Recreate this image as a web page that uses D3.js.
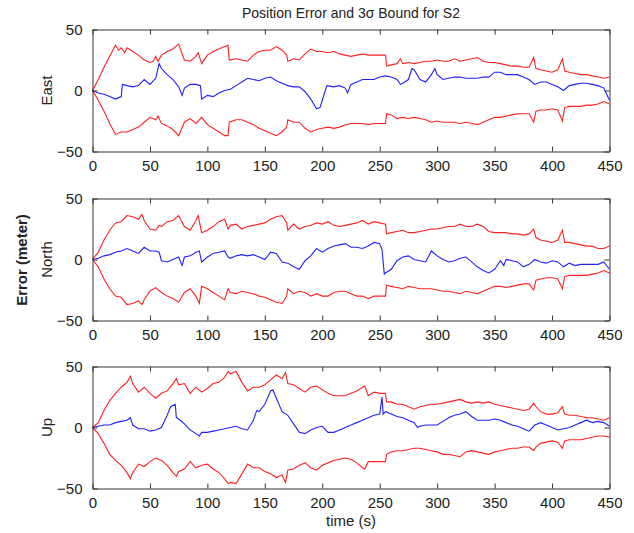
<!DOCTYPE html>
<html>
<head>
<meta charset="utf-8">
<script src="https://cdn.jsdelivr.net/npm/d3@7"></script>
<style>
  body { margin: 0; background: #fff; }
  text { font-family: Arial, "Liberation Sans", sans-serif; fill: #222; }
</style>
</head>
<body>
<div id="viz"></div>
<script>
// dados, [time, meter]

var xTicks = [0, 50, 100, 150, 200, 250, 300, 350, 400, 450];
var yTicks = [-50, 0, 50];
var panelNames = ['East', 'North', 'Up'];

// East
var eastUpper = [[0,0],[5,9],[10,19],[15,28],[20,37],[23,33],[25,35],[28,31],[30,35],[35,32],[40,29],[45,25],[50,23],[53,24],[55,28],[57,24],[60,29],[65,32],[70,34],[75,38],[78,30],[80,25],[85,24],[90,28],[92,31],[95,22],[100,29],[105,32],[110,34],[115,36],[118,37],[119,25],[125,26],[130,25],[135,24],[140,29],[145,32],[150,33],[155,33],[160,36],[165,33],[169,29],[170,24],[175,26],[180,25],[185,30],[190,34],[195,32],[200,32],[205,31],[210,32],[215,30],[220,29],[225,28],[230,29],[235,30],[240,29],[245,29],[250,29],[255,29],[256,20],[260,21],[265,22],[268,26],[270,22],[275,23],[280,22],[285,23],[290,24],[295,24],[300,25],[305,24],[310,24],[315,26],[320,24],[325,25],[330,26],[335,27],[340,24],[345,23],[350,23],[355,22],[360,21],[365,20],[370,20],[375,19],[380,19],[384,27],[386,18],[390,17],[395,16],[400,15],[405,17],[409,26],[411,16],[415,15],[420,14],[425,13],[430,13],[435,12],[440,11],[445,10],[450,11]];
var eastLower = [[0,0],[5,-8],[10,-17],[15,-27],[20,-36],[25,-34],[30,-34],[35,-32],[40,-30],[45,-26],[50,-22],[55,-24],[57,-21],[60,-27],[65,-29],[70,-32],[75,-37],[80,-26],[85,-23],[90,-27],[95,-22],[100,-28],[105,-31],[110,-34],[115,-37],[118,-37],[119,-26],[125,-24],[130,-24],[135,-26],[140,-28],[145,-31],[150,-33],[155,-35],[160,-37],[165,-34],[169,-30],[170,-24],[175,-26],[180,-26],[185,-31],[190,-34],[195,-32],[200,-31],[205,-30],[210,-31],[215,-30],[220,-28],[225,-27],[230,-27],[235,-27],[240,-28],[245,-27],[250,-27],[255,-27],[256,-19],[260,-20],[265,-23],[270,-22],[275,-23],[280,-22],[285,-23],[290,-24],[295,-26],[300,-25],[305,-26],[310,-26],[315,-26],[320,-27],[325,-26],[330,-27],[335,-28],[340,-26],[345,-24],[350,-22],[355,-22],[360,-21],[365,-20],[370,-19],[375,-19],[380,-19],[384,-26],[386,-17],[390,-16],[395,-16],[400,-15],[405,-16],[409,-25],[411,-14],[415,-13],[420,-13],[425,-13],[430,-12],[435,-12],[440,-11],[445,-9],[450,-11]];
var eastError = [[0,0],[5,-2],[10,-3],[15,-5],[20,-7],[25,-5],[26,5],[30,4],[35,3],[40,4],[45,9],[50,5],[55,10],[58,22],[60,18],[65,13],[70,9],[75,3],[78,-4],[80,2],[85,5],[90,5],[94,4],[95,-7],[100,-4],[105,-5],[110,-2],[115,0],[120,1],[125,4],[130,7],[135,10],[140,9],[145,8],[150,10],[155,11],[160,8],[165,6],[170,4],[175,3],[180,3],[185,-1],[190,-7],[195,-15],[198,-14],[200,-8],[204,4],[210,3],[215,4],[220,2],[222,-2],[225,5],[230,7],[235,9],[240,9],[245,9],[250,11],[255,12],[260,11],[265,9],[268,5],[270,6],[275,9],[278,18],[280,17],[285,9],[290,7],[295,13],[298,18],[300,13],[305,9],[310,10],[315,11],[320,11],[325,10],[330,10],[335,10],[340,11],[345,11],[350,15],[355,15],[360,13],[365,13],[370,13],[375,11],[380,9],[385,5],[390,7],[395,7],[400,5],[405,3],[410,0],[415,4],[420,5],[425,6],[430,6],[435,5],[440,4],[445,2],[450,-8]];

// North
var northUpper = [[0,0],[5,6],[10,16],[15,24],[20,30],[25,31],[30,36],[35,35],[40,33],[43,37],[45,32],[50,25],[55,24],[58,28],[60,27],[65,31],[70,32],[75,36],[80,27],[85,24],[90,32],[92,36],[95,22],[100,24],[105,27],[110,31],[115,33],[118,25],[120,28],[125,29],[130,25],[135,27],[140,28],[145,29],[150,30],[155,33],[160,35],[165,36],[169,30],[170,24],[175,29],[180,25],[185,27],[190,28],[195,30],[200,29],[205,31],[210,28],[215,27],[220,28],[225,29],[230,30],[235,32],[240,29],[245,31],[250,30],[255,29],[256,21],[260,22],[265,23],[270,24],[275,22],[280,22],[285,23],[290,24],[295,25],[300,25],[305,26],[310,27],[315,27],[320,29],[325,27],[330,27],[335,29],[340,27],[345,23],[350,22],[355,22],[360,22],[365,21],[370,21],[375,20],[380,21],[384,25],[386,18],[390,16],[395,15],[400,14],[405,16],[409,24],[411,14],[415,14],[420,13],[425,12],[430,11],[435,11],[440,9],[445,9],[450,11]];
var northLower = [[0,0],[5,-6],[10,-16],[15,-24],[20,-30],[25,-31],[30,-37],[35,-36],[40,-34],[43,-37],[45,-33],[50,-26],[55,-23],[60,-27],[65,-30],[70,-32],[75,-35],[80,-27],[85,-24],[90,-30],[93,-36],[95,-22],[100,-24],[105,-27],[110,-30],[115,-33],[118,-24],[120,-27],[125,-28],[130,-26],[135,-27],[140,-28],[145,-30],[150,-31],[155,-33],[160,-35],[165,-36],[169,-30],[170,-24],[175,-28],[180,-26],[185,-27],[190,-30],[195,-28],[200,-30],[205,-30],[210,-27],[215,-26],[220,-26],[225,-28],[230,-30],[235,-30],[240,-32],[245,-30],[250,-30],[255,-30],[256,-21],[260,-22],[265,-23],[270,-24],[275,-22],[280,-23],[285,-24],[290,-24],[295,-24],[300,-25],[305,-26],[310,-26],[315,-27],[320,-28],[325,-26],[330,-27],[335,-28],[340,-26],[345,-24],[350,-22],[355,-22],[360,-23],[365,-22],[370,-21],[375,-20],[380,-20],[384,-25],[386,-17],[390,-16],[395,-15],[400,-15],[405,-16],[409,-24],[411,-14],[415,-13],[420,-13],[425,-13],[430,-13],[435,-12],[440,-11],[445,-9],[450,-11]];
var northError = [[0,0],[5,1],[10,3],[15,4],[20,6],[25,7],[30,9],[35,7],[40,5],[45,10],[50,7],[55,7],[58,6],[60,-1],[65,-2],[70,0],[75,2],[78,-5],[80,2],[85,3],[90,6],[93,7],[95,-2],[100,2],[105,5],[110,6],[115,7],[118,2],[120,1],[125,3],[130,4],[135,3],[140,4],[145,2],[150,0],[155,6],[160,5],[165,-2],[170,-3],[175,-6],[180,-8],[185,-1],[190,3],[195,9],[200,6],[205,9],[210,11],[215,12],[220,13],[225,10],[230,10],[235,9],[240,11],[245,14],[250,13],[252,8],[254,-12],[255,-11],[260,-8],[265,-1],[270,2],[275,3],[280,0],[285,-1],[290,-2],[295,7],[300,3],[305,0],[310,-2],[315,-1],[320,1],[325,2],[330,-2],[335,-6],[340,-9],[345,-11],[350,-8],[355,-1],[358,-5],[360,0],[365,-1],[370,-2],[375,-6],[380,-4],[385,0],[390,-2],[395,-3],[400,-1],[405,-2],[410,-6],[415,-3],[420,-5],[425,-4],[430,-4],[435,-4],[440,-4],[445,-2],[450,-8]];

// Up
var upUpper = [[0,0],[5,4],[10,14],[15,22],[20,28],[25,33],[30,37],[33,42],[35,36],[40,29],[45,33],[50,28],[55,24],[60,28],[65,30],[70,36],[73,40],[75,35],[80,36],[85,28],[90,33],[95,29],[100,32],[105,36],[110,37],[115,41],[118,46],[120,44],[125,46],[130,37],[135,30],[140,33],[145,33],[150,35],[155,39],[160,43],[165,40],[168,45],[170,36],[175,35],[180,32],[185,29],[190,33],[195,34],[200,31],[205,28],[210,26],[215,26],[220,26],[225,28],[230,30],[235,33],[237,34],[240,26],[245,29],[250,28],[255,28],[256,21],[260,21],[265,19],[270,19],[275,17],[280,15],[285,17],[290,18],[295,19],[300,19],[305,20],[310,21],[315,22],[320,23],[325,21],[330,20],[335,21],[340,20],[345,21],[350,19],[355,18],[360,17],[365,16],[370,15],[375,14],[380,15],[384,20],[386,17],[390,13],[395,11],[400,11],[405,12],[409,17],[411,11],[415,10],[420,10],[425,9],[430,8],[435,8],[440,7],[445,6],[450,8]];
var upLower = [[0,0],[5,-5],[10,-13],[15,-22],[20,-27],[25,-31],[30,-37],[33,-42],[35,-37],[40,-30],[45,-32],[50,-28],[55,-25],[60,-27],[65,-31],[70,-37],[73,-40],[75,-36],[80,-34],[85,-28],[90,-33],[95,-31],[100,-30],[105,-34],[110,-37],[115,-42],[118,-46],[120,-45],[125,-46],[130,-38],[135,-30],[140,-33],[145,-33],[150,-36],[155,-38],[160,-41],[165,-39],[168,-45],[170,-35],[175,-34],[180,-31],[185,-29],[190,-33],[195,-35],[200,-31],[205,-29],[210,-27],[215,-26],[220,-25],[225,-26],[230,-29],[235,-33],[237,-34],[240,-28],[245,-28],[250,-28],[255,-28],[256,-22],[260,-20],[265,-19],[270,-19],[275,-18],[280,-17],[285,-17],[290,-18],[295,-19],[300,-20],[305,-22],[310,-22],[315,-23],[320,-24],[325,-20],[330,-19],[335,-20],[340,-21],[345,-22],[350,-20],[355,-19],[360,-18],[365,-17],[370,-17],[375,-16],[380,-16],[384,-19],[386,-16],[390,-13],[395,-12],[400,-11],[405,-12],[409,-17],[411,-11],[415,-10],[420,-10],[425,-10],[430,-9],[435,-8],[440,-7],[445,-7],[450,-8]];
var upError = [[0,0],[5,1],[10,2],[15,2],[20,4],[25,5],[30,6],[33,8],[35,2],[40,-1],[45,-1],[50,-3],[55,-2],[60,0],[65,10],[68,17],[70,18],[72,19],[73,8],[75,7],[80,3],[85,-2],[90,-5],[93,-7],[95,-4],[100,-4],[105,-3],[110,-2],[115,-1],[120,0],[125,1],[130,-1],[135,-2],[140,6],[143,14],[145,13],[150,19],[155,30],[157,31],[160,24],[165,13],[170,10],[175,3],[180,-4],[185,-5],[190,-2],[195,0],[200,1],[205,-4],[210,-4],[215,-2],[220,0],[225,2],[230,4],[235,6],[240,8],[245,10],[250,11],[252,25],[253,11],[255,13],[260,11],[265,9],[270,8],[275,6],[280,4],[283,0],[285,1],[290,2],[295,2],[300,2],[305,5],[310,8],[315,10],[320,11],[325,13],[330,9],[335,6],[340,6],[345,6],[350,7],[355,6],[360,4],[365,2],[370,1],[375,-1],[380,-3],[385,2],[390,4],[395,2],[400,0],[405,-2],[410,-1],[415,0],[420,2],[425,4],[430,6],[435,4],[440,5],[445,4],[450,1]];

var panels = [
    {name: panelNames[0], upper: eastUpper, lower: eastLower, err: eastError},
    {name: panelNames[1], upper: northUpper, lower: northLower, err: northError},
    {name: panelNames[2], upper: upUpper, lower: upLower, err: upError}
];

// tamanho - layout
var width = 634, height = 533;
var left = 92.5, right = 609.5;
var tops = [29.5, 198.5, 366.5];
var ph = 122;

var svg = d3.select('#viz')
.append('svg')
.attr('width', width)
.attr('height', height)
;

var x = d3.scaleLinear().domain([0, 450]).range([left, right]);

svg.append('text')
.text('Position Error and 3\u03c3 Bound for S2')
.attr('x', (left + right) / 2)
.attr('y', 18)
.attr('text-anchor', 'middle')
.style('font-size', '14px')
;

panels.forEach(function(p, i) {
    var top = tops[i];
    var y = d3.scaleLinear().domain([-50, 50]).range([top + ph, top]);

    var g = svg.append('g').attr('class', 'panel');

    var line = d3.line()
    .x(function(d) { return x(d[0]); })
    .y(function(d) { return y(d[1]); })
    ;

    // linhas - lines
    g.append('path').datum(p.upper).attr('d', line)
    .attr('fill', 'none').attr('stroke', '#ff2020').attr('stroke-width', 1.1);
    g.append('path').datum(p.lower).attr('d', line)
    .attr('fill', 'none').attr('stroke', '#ff2020').attr('stroke-width', 1.1);
    g.append('path').datum(p.err).attr('d', line)
    .attr('fill', 'none').attr('stroke', '#2020ff').attr('stroke-width', 1.1);

    // eixos - axes (ticks para dentro / inward ticks)
    g.append('g')
    .attr('transform', 'translate(0,' + (top + ph) + ')')
    .call(d3.axisBottom(x).tickValues(xTicks).tickSizeInner(-5).tickSizeOuter(0).tickPadding(9))
    .call(styleAxis)
    ;
    g.append('g')
    .attr('transform', 'translate(0,' + top + ')')
    .call(d3.axisTop(x).tickValues(xTicks).tickSizeInner(-5).tickSizeOuter(0).tickFormat(''))
    .call(styleAxis)
    ;
    g.append('g')
    .attr('transform', 'translate(' + left + ',0)')
    .call(d3.axisLeft(y).tickValues(yTicks).tickSizeInner(-5).tickSizeOuter(0).tickPadding(10))
    .call(styleAxis)
    ;
    g.append('g')
    .attr('transform', 'translate(' + right + ',0)')
    .call(d3.axisRight(y).tickValues(yTicks).tickSizeInner(-5).tickSizeOuter(0).tickFormat(''))
    .call(styleAxis)
    ;

    g.append('text')
    .text(p.name)
    .attr('transform', 'translate(52,' + (top + ph / 2) + ') rotate(-90)')
    .attr('text-anchor', 'middle')
    .style('font-size', '15px')
    ;
});

svg.append('text')
.text('Error (meter)')
.attr('transform', 'translate(27,260) rotate(-90)')
.attr('text-anchor', 'middle')
.style('font-size', '15px')
.style('font-weight', 'bold')
;

svg.append('text')
.text('time (s)')
.attr('x', (left + right) / 2)
.attr('y', 526)
.attr('text-anchor', 'middle')
.style('font-size', '15px')
;

function styleAxis(a) {
    a.selectAll('.domain').attr('stroke', '#333');
    a.selectAll('.tick line').attr('stroke', '#333');
    a.selectAll('text')
    .style('font-size', '15px')
    .style('font-family', 'Arial, "Liberation Sans", sans-serif')
    .attr('fill', '#222');
}
</script>
</body>
</html>
